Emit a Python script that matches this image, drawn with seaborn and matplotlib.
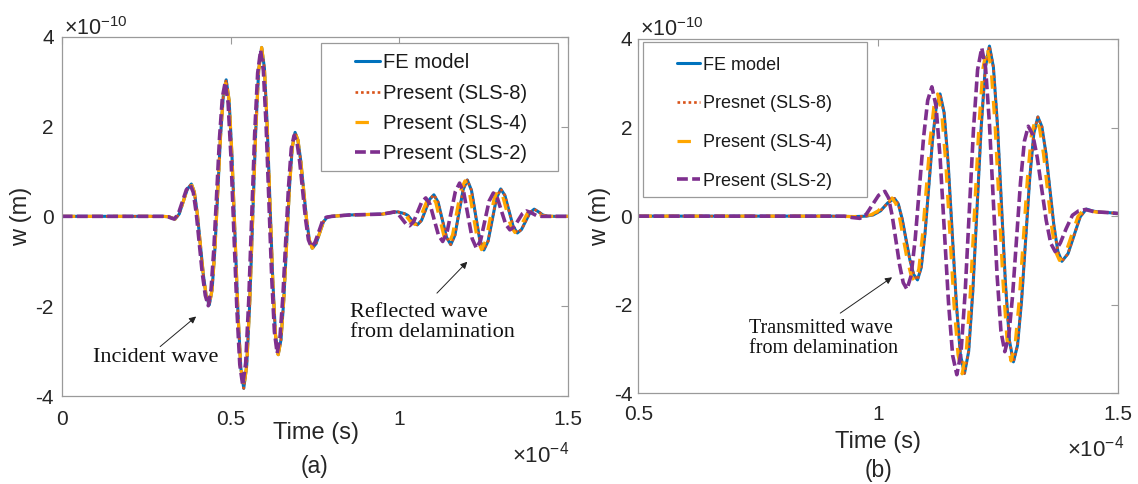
import matplotlib
matplotlib.use('Agg')
import matplotlib.pyplot as plt
import seaborn as sns
from matplotlib.lines import Line2D
from matplotlib.patches import Rectangle

sns.set_style('white')
plt.rcParams['font.family'] = ['Liberation Sans', 'DejaVu Sans']
plt.rcParams['mathtext.fontset'] = 'custom'
plt.rcParams['mathtext.rm'] = 'Liberation Sans'
plt.rcParams['mathtext.it'] = 'Liberation Sans:italic'

# ---------------- data (time in 1e-4 s, w in 1e-10 m) ----------------
left_fe = [(0.0, 0.0), (0.30, 0.0), (0.318, -0.01), (0.328, -0.04), (0.336, -0.06),
           (0.348, 0.054), (0.360, 0.33), (0.372, 0.606), (0.384, 0.72),
           (0.3928, 0.54), (0.4017, 0.048), (0.4105, -0.625), (0.4193, -1.298), (0.4282, -1.79), (0.437, -1.97),
           (0.4453, -1.634), (0.4537, -0.718), (0.462, 0.535), (0.4703, 1.788), (0.4787, 2.704), (0.487, 3.04),
           (0.4957, 2.58), (0.5043, 1.323), (0.513, -0.395), (0.5217, -2.113), (0.5303, -3.37), (0.539, -3.83),
           (0.5478, -3.322), (0.5567, -1.933), (0.5655, -0.035), (0.5743, 1.863), (0.5832, 3.252), (0.592, 3.76),
           (0.6002, 3.302), (0.6083, 2.05), (0.6165, 0.34), (0.6247, -1.37), (0.6328, -2.622), (0.641, -3.08),
           (0.6493, -2.748), (0.6577, -1.843), (0.666, -0.605), (0.6743, 0.633), (0.6827, 1.538), (0.691, 1.87),
           (0.6995, 1.697), (0.708, 1.225), (0.7165, 0.58), (0.725, -0.065), (0.7335, -0.537), (0.742, -0.71),
           (0.753, -0.61), (0.764, -0.365), (0.775, -0.12), (0.786, -0.02), (0.80, 0.0), (0.85, 0.03),
           (0.95, 0.05), (0.975, 0.08), (0.995, 0.10), (1.015, 0.06), (1.025, 0.02), (1.04, -0.12), (1.053, -0.19),
           (1.0653, -0.092), (1.0775, 0.145), (1.0898, 0.382), (1.102, 0.48),
           (1.1145, 0.317), (1.127, -0.075), (1.1395, -0.467), (1.152, -0.63),
           (1.1643, -0.419), (1.1765, 0.09), (1.1888, 0.599), (1.201, 0.81),
           (1.2133, 0.581), (1.2255, 0.03), (1.2378, -0.521), (1.250, -0.75),
           (1.2625, -0.551), (1.275, -0.07), (1.2875, 0.411), (1.300, 0.61),
           (1.3123, 0.466), (1.3245, 0.12), (1.3368, -0.226), (1.349, -0.37),
           (1.3615, -0.292), (1.374, -0.105), (1.3865, 0.082), (1.399, 0.16),
           (1.412, 0.10), (1.425, 0.03), (1.44, 0.0), (1.5, 0.0)]

left_sls8 = [(0.0, 0.0), (0.30, 0.0), (0.318, -0.01), (0.328, -0.04), (0.336, -0.06),
             (0.348, 0.054), (0.360, 0.33), (0.372, 0.606), (0.384, 0.72),
             (0.3928, 0.54), (0.4017, 0.048), (0.4105, -0.625), (0.4193, -1.298), (0.4282, -1.79), (0.437, -1.97),
             (0.4453, -1.634), (0.4537, -0.718), (0.462, 0.535), (0.4703, 1.788), (0.4787, 2.704), (0.487, 3.04),
             (0.4957, 2.58), (0.5043, 1.323), (0.513, -0.395), (0.5217, -2.113), (0.5303, -3.37), (0.539, -3.83),
             (0.5478, -3.322), (0.5567, -1.933), (0.5655, -0.035), (0.5743, 1.863), (0.5832, 3.252), (0.592, 3.76),
             (0.6002, 3.302), (0.6083, 2.05), (0.6165, 0.34), (0.6247, -1.37), (0.6328, -2.622), (0.641, -3.08),
             (0.6493, -2.748), (0.6577, -1.843), (0.666, -0.605), (0.6743, 0.633), (0.6827, 1.538), (0.691, 1.87),
             (0.6995, 1.697), (0.708, 1.225), (0.7165, 0.58), (0.725, -0.065), (0.7335, -0.537), (0.742, -0.71),
             (0.753, -0.61), (0.764, -0.365), (0.775, -0.12), (0.786, -0.02), (0.80, 0.0), (0.85, 0.03),
             (0.95, 0.05), (0.975, 0.08), (0.995, 0.10), (1.015, 0.06), (1.025, 0.02), (1.04, -0.12), (1.053, -0.19),
             (1.0653, -0.092), (1.0775, 0.145), (1.0898, 0.382), (1.102, 0.48),
             (1.1145, 0.317), (1.127, -0.075), (1.1395, -0.467), (1.152, -0.63),
             (1.1643, -0.419), (1.1765, 0.09), (1.1888, 0.599), (1.201, 0.81),
             (1.2133, 0.581), (1.2255, 0.03), (1.2378, -0.521), (1.250, -0.75),
             (1.2625, -0.551), (1.275, -0.07), (1.2875, 0.411), (1.300, 0.61),
             (1.3123, 0.466), (1.3245, 0.12), (1.3368, -0.226), (1.349, -0.37),
             (1.3615, -0.292), (1.374, -0.105), (1.3865, 0.082), (1.399, 0.16),
             (1.412, 0.10), (1.425, 0.03), (1.44, 0.0), (1.5, 0.0)]

left_sls4 = [(0.0, 0.0), (0.30, 0.0), (0.318, -0.01), (0.328, -0.04), (0.336, -0.06),
             (0.348, 0.054), (0.360, 0.33), (0.372, 0.606), (0.384, 0.72),
             (0.3928, 0.54), (0.4017, 0.048), (0.4105, -0.625), (0.4193, -1.298), (0.4282, -1.79), (0.437, -1.97),
             (0.4453, -1.634), (0.4537, -0.718), (0.462, 0.535), (0.4703, 1.788), (0.4787, 2.704), (0.487, 3.04),
             (0.4957, 2.58), (0.5043, 1.323), (0.513, -0.395), (0.5217, -2.113), (0.5303, -3.37), (0.539, -3.83),
             (0.5478, -3.322), (0.5567, -1.933), (0.5655, -0.035), (0.5743, 1.863), (0.5832, 3.252), (0.592, 3.76),
             (0.6002, 3.302), (0.6083, 2.05), (0.6165, 0.34), (0.6247, -1.37), (0.6328, -2.622), (0.641, -3.08),
             (0.6493, -2.748), (0.6577, -1.843), (0.666, -0.605), (0.6743, 0.633), (0.6827, 1.538), (0.691, 1.87),
             (0.6995, 1.697), (0.708, 1.225), (0.7165, 0.58), (0.725, -0.065), (0.7335, -0.537), (0.742, -0.71),
             (0.753, -0.61), (0.764, -0.365), (0.775, -0.12), (0.786, -0.02), (0.80, 0.0), (0.85, 0.03),
             (0.95, 0.05), (0.97, 0.08), (0.99, 0.10), (1.008, 0.06), (1.018, 0.02), (1.033, -0.12), (1.046, -0.18),
             (1.0583, -0.09), (1.0705, 0.145), (1.0828, 0.37), (1.095, 0.47),
             (1.1075, 0.31), (1.12, -0.075), (1.1325, -0.46), (1.145, -0.62),
             (1.1573, -0.41), (1.1695, 0.085), (1.1818, 0.585), (1.194, 0.79),
             (1.2063, 0.57), (1.2185, 0.025), (1.2308, -0.515), (1.243, -0.74),
             (1.2555, -0.545), (1.268, -0.07), (1.2805, 0.40), (1.293, 0.60),
             (1.3053, 0.46), (1.3175, 0.12), (1.3298, -0.22), (1.342, -0.36),
             (1.3545, -0.285), (1.367, -0.10), (1.3795, 0.08), (1.392, 0.15),
             (1.405, 0.10), (1.418, 0.03), (1.435, 0.0), (1.5, 0.0)]

left_sls2 = [(0.0, 0.0), (0.30, 0.0), (0.315, -0.01), (0.325, -0.04), (0.333, -0.06),
             (0.345, 0.05), (0.357, 0.32), (0.369, 0.59), (0.381, 0.70),
             (0.3898, 0.53), (0.3987, 0.05), (0.4075, -0.61), (0.4163, -1.27), (0.4252, -1.76), (0.434, -1.99),
             (0.4423, -1.62), (0.4507, -0.70), (0.459, 0.52), (0.4673, 1.75), (0.4757, 2.65), (0.484, 2.98),
             (0.4927, 2.53), (0.5013, 1.30), (0.510, -0.39), (0.5187, -2.07), (0.5273, -3.30), (0.536, -3.76),
             (0.5448, -3.26), (0.5537, -1.89), (0.5625, -0.03), (0.5713, 1.83), (0.5802, 3.19), (0.589, 3.70),
             (0.5972, 3.24), (0.6053, 2.01), (0.6135, 0.33), (0.6217, -1.34), (0.6298, -2.57), (0.638, -3.05),
             (0.6463, -2.69), (0.6547, -1.81), (0.663, -0.59), (0.6713, 0.62), (0.6797, 1.51), (0.688, 1.80),
             (0.6965, 1.66), (0.705, 1.20), (0.7135, 0.57), (0.722, -0.06), (0.7305, -0.52), (0.739, -0.68),
             (0.750, -0.58), (0.761, -0.35), (0.772, -0.11), (0.783, -0.02), (0.80, 0.0), (0.85, 0.03),
             (0.95, 0.05), (0.972, 0.08), (0.985, 0.10),
             (0.996, 0.055), (1.0075, -0.055), (1.019, -0.165), (1.030, -0.21),
             (1.042, -0.12), (1.054, 0.10), (1.066, 0.32), (1.078, 0.41),
             (1.0905, 0.268), (1.103, -0.075), (1.1155, -0.418), (1.128, -0.56),
             (1.1405, -0.37), (1.153, 0.09), (1.1655, 0.55), (1.178, 0.74),
             (1.1905, 0.528), (1.203, 0.015), (1.2155, -0.498), (1.228, -0.71),
             (1.2405, -0.53), (1.253, -0.095), (1.2655, 0.34), (1.278, 0.52),
             (1.2903, 0.40), (1.3025, 0.11), (1.3148, -0.18), (1.327, -0.30),
             (1.3393, -0.238), (1.3515, -0.09), (1.3638, 0.058), (1.376, 0.12),
             (1.39, 0.08), (1.405, 0.02), (1.42, 0.0), (1.5, 0.0)]

right_fe = [(0.5, 0.0), (0.90, 0.0), (0.95, -0.01), (0.975, 0.0), (0.99, 0.03), (1.005, 0.12), (1.02, 0.30), (1.034, 0.40),
            (1.042, 0.277), (1.050, -0.06), (1.058, -0.52), (1.066, -0.98), (1.074, -1.317), (1.082, -1.44),
            (1.0898, -1.159), (1.0977, -0.39), (1.1055, 0.66), (1.1133, 1.71), (1.1212, 2.479), (1.129, 2.76),
            (1.1375, 2.337), (1.146, 1.183), (1.1545, -0.395), (1.163, -1.973), (1.1715, -3.127), (1.180, -3.55),
            (1.1887, -3.055), (1.1973, -1.703), (1.206, 0.145), (1.2147, 1.993), (1.2233, 3.345), (1.232, 3.84),
            (1.2403, 3.362), (1.2487, 2.058), (1.257, 0.275), (1.2653, -1.508), (1.2737, -2.812), (1.282, -3.29),
            (1.2905, -2.919), (1.299, -1.908), (1.3075, -0.525), (1.316, 0.858), (1.3245, 1.869), (1.333, 2.24),
            (1.3413, 2.022), (1.3497, 1.425), (1.358, 0.61), (1.3663, -0.205), (1.3747, -0.802), (1.383, -1.02),
            (1.3958, -0.847), (1.4085, -0.43), (1.4213, -0.013), (1.434, 0.16), (1.446, 0.12), (1.46, 0.09),
            (1.48, 0.08), (1.5, 0.06)]

right_sls8 = [(0.5, 0.0), (0.90, 0.0), (0.95, -0.01), (0.975, 0.0), (0.99, 0.03), (1.005, 0.12), (1.02, 0.30), (1.034, 0.40),
              (1.042, 0.277), (1.050, -0.06), (1.058, -0.52), (1.066, -0.98), (1.074, -1.317), (1.082, -1.44),
              (1.0898, -1.159), (1.0977, -0.39), (1.1055, 0.66), (1.1133, 1.71), (1.1212, 2.479), (1.129, 2.76),
              (1.1375, 2.337), (1.146, 1.183), (1.1545, -0.395), (1.163, -1.973), (1.1715, -3.127), (1.180, -3.55),
              (1.1887, -3.055), (1.1973, -1.703), (1.206, 0.145), (1.2147, 1.993), (1.2233, 3.345), (1.232, 3.84),
              (1.2403, 3.362), (1.2487, 2.058), (1.257, 0.275), (1.2653, -1.508), (1.2737, -2.812), (1.282, -3.29),
              (1.2905, -2.919), (1.299, -1.908), (1.3075, -0.525), (1.316, 0.858), (1.3245, 1.869), (1.333, 2.24),
              (1.3413, 2.022), (1.3497, 1.425), (1.358, 0.61), (1.3663, -0.205), (1.3747, -0.802), (1.383, -1.02),
              (1.3958, -0.847), (1.4085, -0.43), (1.4213, -0.013), (1.434, 0.16), (1.446, 0.12), (1.46, 0.09),
              (1.48, 0.08), (1.5, 0.06)]

right_sls4 = [(0.5, 0.0), (0.90, 0.0), (0.95, -0.01), (0.97, 0.0), (0.985, 0.03), (1.0, 0.12), (1.015, 0.30), (1.029, 0.41),
              (1.037, 0.28), (1.045, -0.06), (1.053, -0.54), (1.061, -1.01), (1.069, -1.35), (1.077, -1.48),
              (1.0848, -1.19), (1.0927, -0.40), (1.1005, 0.66), (1.1083, 1.72), (1.1162, 2.48), (1.124, 2.76),
              (1.1325, 2.33), (1.141, 1.18), (1.1495, -0.40), (1.158, -1.98), (1.1665, -3.13), (1.175, -3.56),
              (1.1837, -3.06), (1.1923, -1.70), (1.201, 0.15), (1.2097, 1.99), (1.2183, 3.33), (1.227, 3.82),
              (1.2353, 3.35), (1.2437, 2.05), (1.252, 0.27), (1.2603, -1.50), (1.2687, -2.80), (1.277, -3.27),
              (1.2855, -2.90), (1.294, -1.90), (1.3025, -0.53), (1.311, 0.84), (1.3195, 1.84), (1.328, 2.20),
              (1.3363, 1.99), (1.3447, 1.40), (1.353, 0.59), (1.3613, -0.21), (1.3697, -0.80), (1.378, -1.00),
              (1.3908, -0.83), (1.4035, -0.42), (1.4163, -0.01), (1.429, 0.16), (1.441, 0.12), (1.455, 0.09),
              (1.48, 0.08), (1.5, 0.06)]

right_sls2 = [(0.5, 0.0), (0.93, 0.0), (0.945, -0.03), (0.962, -0.05), (0.975, 0.039), (0.988, 0.255), (1.001, 0.471), (1.014, 0.56),
              (1.0217, 0.412), (1.0293, 0.008), (1.037, -0.545), (1.0447, -1.098), (1.0523, -1.502), (1.060, -1.65),
              (1.0687, -1.344), (1.0773, -0.508), (1.086, 0.635), (1.0947, 1.778), (1.1033, 2.614), (1.112, 2.92),
              (1.1207, 2.485), (1.1293, 1.295), (1.138, -0.33), (1.1467, -1.955), (1.1553, -3.145), (1.164, -3.58),
              (1.1727, -3.086), (1.1813, -1.735), (1.19, 0.11), (1.1987, 1.955), (1.2073, 3.306), (1.216, 3.80),
              (1.224, 3.34), (1.232, 2.085), (1.24, 0.37), (1.248, -1.345), (1.256, -2.6), (1.264, -3.06),
              (1.2722, -2.719), (1.2803, -1.788), (1.2885, -0.515), (1.2967, 0.758), (1.3048, 1.689), (1.313, 2.03),
              (1.3223, 1.84), (1.3317, 1.323), (1.341, 0.615), (1.3503, -0.093), (1.3597, -0.61), (1.369, -0.80),
              (1.38, -0.6), (1.392, -0.28), (1.405, 0.02), (1.418, 0.12), (1.432, 0.15), (1.45, 0.1),
              (1.48, 0.08), (1.5, 0.06)]

left_labels = ['FE model', 'Present (SLS-8)', 'Present (SLS-4)', 'Present (SLS-2)']
right_labels = ['FE model', 'Presnet (SLS-8)', 'Present (SLS-4)', 'Present (SLS-2)']
left_xticks = [0, 0.5, 1, 1.5]
left_xticklabels = ['0', '0.5', '1', '1.5']
right_xticks = [0.5, 1, 1.5]
right_xticklabels = ['0.5', '1', '1.5']
yticks = [-4, -2, 0, 2, 4]
yticklabels = ['-4', '-2', '0', '2', '4']

# ---------------- styling ----------------
colors = ['#0072BD', '#D95319', '#FFA600', '#7E2F8E']
linestyles = ['-', (0, (1, 1.1)), (0, (4.2, 3.8)), (0, (3, 1.2))]
linewidths = [2.2, 1.9, 2.3, 2.6]

W, H = 1138, 484
fig = plt.figure(figsize=(W / 100, H / 100), dpi=100)


def fx(px):
    return px / W


def fy(py):
    return 1 - py / H


axL = fig.add_axes([fx(61.7), fy(396), (568.3 - 61.7) / W, (396 - 36.7) / H])
axR = fig.add_axes([fx(638.3), fy(393.3), (1118 - 638.3) / W, (393.3 - 39) / H])


def draw(ax, series):
    for pts, col, ls, lw in zip(series, colors, linestyles, linewidths):
        t = [p[0] for p in pts]
        w = [p[1] for p in pts]
        sns.lineplot(x=t, y=w, ax=ax, color=col, linestyle=ls, linewidth=lw,
                     sort=False, estimator=None, legend=False)


draw(axL, [left_fe, left_sls8, left_sls4, left_sls2])
draw(axR, [right_fe, right_sls8, right_sls4, right_sls2])

spine_col = '#9a9a9a'
for ax, xt, xtl, xlim, xpad, ypad in [(axL, left_xticks, left_xticklabels, (0, 1.5), 9.8, 5.6),
                                       (axR, right_xticks, right_xticklabels, (0.5, 1.5), 8.6, 4.4)]:
    ax.set_xlim(*xlim)
    ax.set_ylim(-4, 4)
    ax.set_xticks(xt)
    ax.set_xticklabels(xtl)
    ax.set_yticks(yticks)
    ax.set_yticklabels(yticklabels)
    ax.set_xlabel('')
    ax.set_ylabel('')
    for s in ax.spines.values():
        s.set_visible(True)
        s.set_color(spine_col)
        s.set_linewidth(0.9)
    ax.tick_params(direction='in', length=5, width=0.8, color=spine_col,
                   top=True, right=True, labelsize=15, labelcolor='#262626')
    ax.tick_params(axis='x', pad=xpad)
    ax.tick_params(axis='y', pad=ypad)


def make_legend(ax, labels, fontsize, handle_x, row_top, hl, htp, ls, box):
    handles = [Line2D([0], [0], color=c, linestyle=s, linewidth=w)
               for c, s, w in zip(colors, linestyles, linewidths)]
    bx0, by0, bx1, by1 = box
    rect = Rectangle((fx(bx0), fy(by1)), (bx1 - bx0) / W, (by1 - by0) / H,
                     transform=fig.transFigure, facecolor='white', edgecolor=spine_col,
                     linewidth=0.9, zorder=4)
    ax.add_patch(rect)
    leg = ax.legend(handles, labels, loc='upper left', bbox_to_anchor=(fx(handle_x), fy(row_top)),
                    bbox_transform=fig.transFigure, frameon=False, fontsize=fontsize,
                    handlelength=hl, handletextpad=htp, labelspacing=ls, borderpad=0,
                    borderaxespad=0)
    leg.set_zorder(5)
    for t in leg.get_texts():
        t.set_color('#1a1a1a')


make_legend(axL, left_labels, 14.5, 355, 53.5, 1.24, 0.16, 0.55, (321, 42.7, 558, 170.7))
make_legend(axR, right_labels, 13, 677.3, 56.5, 1.27, 0.17, 1.2, (643.3, 42.3, 866.8, 196.7))

# annotations
serif = ['Liberation Serif', 'DejaVu Serif']
arrow = dict(arrowstyle='-|>', color='#222222', lw=0.7, mutation_scale=10, shrinkA=0, shrinkB=0)
axL.annotate('', xy=(0.398, -2.23), xytext=(0.2915, -2.90), arrowprops=arrow)
axL.text(0.092, -3.15, 'Incident wave', family=serif, fontsize=16, ha='left', va='center', color='#111111')
axL.annotate('', xy=(1.201, -1.01), xytext=(1.111, -1.71), arrowprops=arrow)
axL.text(0.853, -2.37, 'Reflected wave\nfrom delamination', family=serif, fontsize=16, ha='left',
         va='center', linespacing=1.05, color='#111111')
axR.annotate('', xy=(1.029, -1.38), xytext=(0.921, -2.19), arrowprops=arrow)
axR.text(0.730, -2.76, 'Transmitted wave\nfrom delamination', family=serif, fontsize=14.5, ha='left',
         va='center', linespacing=1.05, color='#111111')

# axis labels / multipliers / panel tags
txt = '#262626'
fig.text(fx(21), fy(216), 'w (m)', rotation=90, ha='center', va='center', fontsize=17, color=txt)
fig.text(fx(600), fy(216), 'w (m)', rotation=90, ha='center', va='center', fontsize=17, color=txt)
fig.text(fx(316), fy(433), 'Time (s)', ha='center', va='center', fontsize=17, color=txt)
fig.text(fx(878), fy(441.7), 'Time (s)', ha='center', va='center', fontsize=17, color=txt)
fig.text(fx(314), fy(466.7), '(a)', ha='center', va='center', fontsize=16.5, color=txt)
fig.text(fx(878), fy(470), '(b)', ha='center', va='center', fontsize=16.5, color=txt)
fig.text(fx(63.6), fy(29), r'$\mathregular{\times 10^{-10}}$', ha='left', va='center', fontsize=15.5, color=txt)
fig.text(fx(640.4), fy(30), r'$\mathregular{\times 10^{-10}}$', ha='left', va='center', fontsize=15.5, color=txt)
fig.text(fx(511.7), fy(455), r'$\mathregular{\times 10^{-4}}$', ha='left', va='center', fontsize=16, color=txt)
fig.text(fx(1067), fy(449), r'$\mathregular{\times 10^{-4}}$', ha='left', va='center', fontsize=16, color=txt)

fig.savefig('out.png', dpi=100)
